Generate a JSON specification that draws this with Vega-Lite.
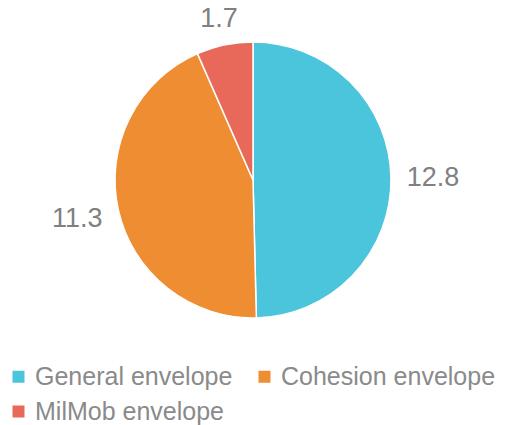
{
  "$schema": "https://vega.github.io/schema/vega-lite/v6.json",
  "width": 506,
  "height": 360,
  "autosize": "none",
  "padding": {"top": 0, "left": 0, "right": 0, "bottom": 65},
  "background": "white",
  "config": {"view": {"stroke": null}, "font": "Liberation Sans"},
  "data": {"values": [
    {"cat": "General envelope", "value": 12.8, "ord": 1},
    {"cat": "Cohesion envelope", "value": 11.3, "ord": 2},
    {"cat": "MilMob envelope", "value": 1.7, "ord": 3}
  ]},
  "encoding": {
    "theta": {"field": "value", "type": "quantitative", "stack": true},
    "order": {"field": "ord", "type": "quantitative"}
  },
  "layer": [
    {
      "mark": {"type": "arc", "outerRadius": 138, "stroke": "white", "strokeWidth": 1.5},
      "encoding": {
        "color": {
          "field": "cat", "type": "nominal",
          "scale": {"domain": ["General envelope", "Cohesion envelope", "MilMob envelope"], "range": ["#4BC5DB", "#EE8D31", "#E8695A"]},
          "sort": ["General envelope", "Cohesion envelope", "MilMob envelope"],
          "legend": {
            "title": null, "orient": "none", "legendX": 6, "legendY": 364, "padding": 0,
            "direction": "horizontal", "columns": 2, "symbolType": "square",
            "symbolSize": 144, "symbolStrokeWidth": 0, "labelFontSize": 25, "labelColor": "#8a8a8a",
            "labelLimit": 400, "columnPadding": 19, "rowPadding": 9, "labelOffset": 4
          }
        }
      }
    },
    {
      "mark": {"type": "text", "radius": 180, "fontSize": 27, "color": "#808080"},
      "encoding": {"text": {"condition": {"test": "datum.ord < 3", "field": "value", "type": "quantitative", "format": ".1f"}, "value": ""}}
    },
    {
      "mark": {"type": "text", "radius": 165, "fontSize": 27, "color": "#808080"},
      "encoding": {"text": {"condition": {"test": "datum.ord == 3", "field": "value", "type": "quantitative", "format": ".1f"}, "value": ""}}
    }
  ]
}
